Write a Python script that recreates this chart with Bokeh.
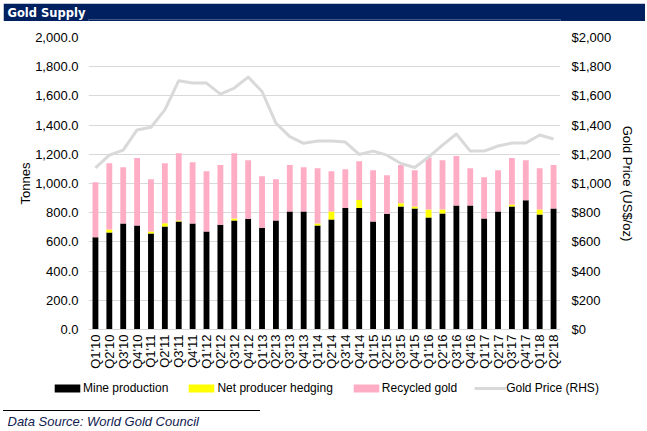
import math
from bokeh.plotting import figure
from bokeh.models import (ColumnDataSource, FactorRange, Range1d, LinearAxis,
                          NumeralTickFormatter, FixedTicker, Legend, LegendItem, Div)
from bokeh.layouts import column, row
from bokeh.embed import file_html
from bokeh.resources import INLINE

quarters = ["Q1'10", "Q2'10", "Q3'10", "Q4'10", "Q1'11", "Q2'11", "Q3'11", "Q4'11",
            "Q1'12", "Q2'12", "Q3'12", "Q4'12", "Q1'13", "Q2'13", "Q3'13", "Q4'13",
            "Q1'14", "Q2'14", "Q3'14", "Q4'14", "Q1'15", "Q2'15", "Q3'15", "Q4'15",
            "Q1'16", "Q2'16", "Q3'16", "Q4'16", "Q1'17", "Q2'17", "Q3'17", "Q4'17",
            "Q1'18", "Q2'18"]

# tonnes
mine = [632, 664, 726, 713, 657, 706, 740, 726,
        671, 717, 747, 759, 697, 747, 809, 809,
        713, 754, 832, 832, 740, 793, 843, 829,
        767, 795, 850, 850, 761, 809, 843, 885,
        788, 829]
hedging = [0, 21, 0, 0, 14, 22, 7, 0,
           0, 0, 14, 0, 0, 0, 0, 0,
           13, 55, 0, 55, 0, 0, 21, 14,
           55, 27, 0, 0, 0, 0, 14, 0,
           34, 0]
recycled = [377, 454, 386, 461, 358, 411, 461, 420,
            413, 409, 447, 401, 353, 282, 317, 303,
            379, 275, 266, 266, 351, 264, 262, 248,
            356, 338, 338, 255, 282, 282, 317, 275,
            283, 297]
# US$/oz, right axis
gold_price = [1107, 1194, 1229, 1367, 1385, 1504, 1704, 1688,
              1688, 1612, 1654, 1729, 1630, 1413, 1321, 1275,
              1291, 1291, 1284, 1199, 1222, 1194, 1137, 1110,
              1181, 1263, 1339, 1222, 1222, 1257, 1277, 1277,
              1332, 1305]

series_names = ["Mine production", "Net producer hedging", "Recycled gold"]
series_colors = ["#000000", "#ffff00", "#ffacc5"]

NAVY = "#002060"
FONT = "Liberation Sans"
GRID = "#d9d9d9"
W = 642
BL, BR = 85, 85   # same side borders for every figure in the column

source = ColumnDataSource(data=dict(quarter=quarters, mine=mine, hedging=hedging,
                                    recycled=recycled, price=gold_price))

# header bar, all navy, text as title
header = figure(width=W, height=18, x_range=Range1d(0, 1), y_range=Range1d(0, 1),
                x_axis_type=None, y_axis_type=None, output_backend="svg",
                toolbar_location=None, min_border_left=BL, min_border_right=BR,
                min_border_top=0, min_border_bottom=0)
header.background_fill_color = NAVY
header.border_fill_color = NAVY
header.outline_line_color = None
header.title.text = "Gold Supply"
header.title.text_color = "white"
header.title.text_font = "DejaVu Sans"
header.title.text_font_style = "bold"
header.title.text_font_size = "11.5px"
header.title.align = "left"
header.title.offset = -(BL - 4)
header.title.standoff = 0

# main chart
p = figure(x_range=FactorRange(factors=quarters), y_range=Range1d(0, 2000),
           width=W, height=352, output_backend="svg", toolbar_location=None,
           min_border_left=BL, min_border_right=BR, min_border_top=16, min_border_bottom=44)
p.outline_line_color = None
p.xgrid.visible = False
p.ygrid.grid_line_color = GRID
p.ygrid.ticker = FixedTicker(ticks=list(range(0, 2001, 200)))

bars = p.vbar_stack(["mine", "hedging", "recycled"], x="quarter", width=0.42,
                    color=series_colors, line_color=None, source=source)

p.extra_y_ranges = {"price": Range1d(0, 2000)}
price_line = p.line(x="quarter", y="price", y_range_name="price", source=source,
                    line_color=GRID, line_width=3, line_join="round")

left = p.yaxis[0]
left.ticker = FixedTicker(ticks=list(range(0, 2001, 200)))
left.formatter = NumeralTickFormatter(format="0,0.0")
left.axis_label = "Tonnes"
left.axis_label_standoff = -1
left.major_label_standoff = 10

right = LinearAxis(y_range_name="price",
                   ticker=FixedTicker(ticks=list(range(0, 2001, 200))),
                   formatter=NumeralTickFormatter(format="$0,0"),
                   axis_label="Gold Price (US$/oz)")
right.axis_label_standoff = 6
right.major_label_standoff = 11
p.add_layout(right, "right")

for ax in [left, right]:
    ax.axis_line_color = None
    ax.major_tick_line_color = None
    ax.minor_tick_line_color = None
    ax.major_tick_out = 0
    ax.major_tick_in = 0
    ax.major_label_text_font = FONT
    ax.major_label_text_font_size = "13px"
    ax.major_label_text_color = "black"
    ax.axis_label_text_font = FONT
    ax.axis_label_text_font_size = "13px"
    ax.axis_label_text_font_style = "normal"
    ax.axis_label_text_color = "black"

xa = p.xaxis[0]
xa.major_label_orientation = math.pi / 2
xa.major_label_standoff = 5
xa.major_tick_line_color = None
xa.minor_tick_line_color = None
xa.major_tick_out = 0
xa.major_tick_in = 0
xa.axis_line_color = GRID
xa.major_label_text_font = FONT
xa.major_label_text_font_size = "13px"
xa.major_label_text_color = "black"

# legend strip: own small figure with a wider frame; same data drawn out of view
# (y range far above the values) so the legend swatches have something to draw
leg = figure(width=W, height=36, x_range=p.x_range, y_range=Range1d(5000, 6000),
             x_axis_type=None, y_axis_type=None, output_backend="svg",
             toolbar_location=None, min_border_left=48, min_border_right=42,
             min_border_top=0, min_border_bottom=0)
leg.outline_line_color = None
leg.grid.visible = False
swatches = leg.vbar_stack(["mine", "hedging", "recycled"], x="quarter", width=0.42,
                          color=series_colors, line_color=None, source=source)
swatches.append(leg.line(x="quarter", y="price", source=source,
                         line_color=GRID, line_width=3))
items = [LegendItem(label=n, renderers=[r])
         for n, r in zip(series_names + ["Gold Price (RHS)"], swatches)]
legend = Legend(items=items, orientation="horizontal", location=(0, 14),
                spacing=17, glyph_width=32, glyph_height=10, label_standoff=0,
                label_height=12, label_text_font=FONT, label_text_font_size="12px",
                label_text_color="black", padding=0, margin=0,
                border_line_color=None, background_fill_alpha=0)
leg.add_layout(legend)

# separator line under the chart
sep = Div(text="", width=257, height=1, margin=(1, 0, 0, 0),
          styles={"border-top": "1px solid black"})

# footer with source note
footer = figure(width=W, height=17, x_range=Range1d(0, 1), y_range=Range1d(0, 1),
                x_axis_type=None, y_axis_type=None, output_backend="svg",
                toolbar_location=None, min_border_left=BL, min_border_right=BR,
                min_border_top=0, min_border_bottom=0)
footer.outline_line_color = None
footer.title.text = "Data Source: World Gold Council"
footer.title.text_color = "#10204f"
footer.title.text_font = FONT
footer.title.text_font_style = "italic"
footer.title.text_font_size = "13px"
footer.title.align = "left"
footer.title.offset = -(BL - 4)
footer.title.standoff = 0

layout = column(header, p, row(leg, spacing=0), sep, footer, spacing=0, margin=(3, 0, 0, 3))
open("out.html", "w").write(file_html(layout, INLINE))
